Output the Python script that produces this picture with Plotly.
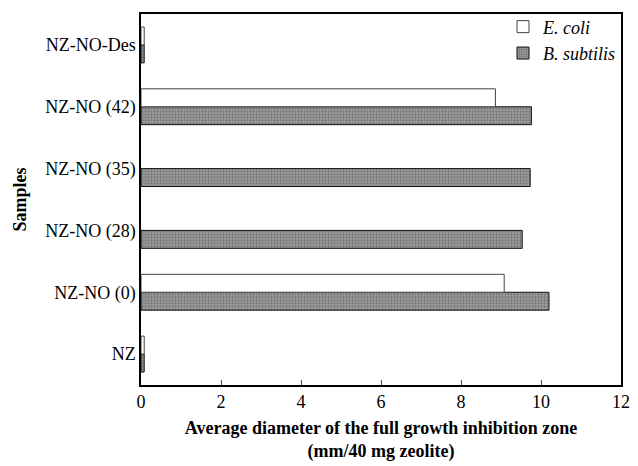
import plotly.graph_objects as go

samples = ["NZ", "NZ-NO (0)", "NZ-NO (28)", "NZ-NO (35)", "NZ-NO (42)", "NZ-NO-Des"]
e_coli = [0.08, 9.08, None, None, 8.86, 0.08]
b_subtilis = [0.08, 10.2, 9.53, 9.73, 9.76, 0.08]
x_ticks = [0, 2, 4, 6, 8, 10, 12]

serif = "Liberation Serif"

fig = go.Figure()
fig.add_trace(go.Bar(
    y=samples, x=b_subtilis, orientation="h", name="<i>B. subtilis</i>",
    legendrank=2,
    marker=dict(color="#8f8f8f", line=dict(color="#111", width=1),
                pattern=dict(shape=".", fgcolor="#4a4a4a", bgcolor="#a0a0a0",
                             size=3, solidity=0.45)),
))
fig.add_trace(go.Bar(
    y=samples, x=e_coli, orientation="h", name="<i>E. coli</i>",
    legendrank=1,
    marker=dict(color="white", line=dict(color="#444", width=1)),
))

fig.update_layout(
    width=638, height=466,
    margin=dict(l=141, r=8, t=12, b=75),
    paper_bgcolor="white", plot_bgcolor="white",
    barmode="group", bargap=0.42, bargroupgap=0,
    font=dict(family=serif, size=18, color="black"),
    showlegend=True,
    legend=dict(x=1.0, y=1.015, xanchor="right", yanchor="top",
                bgcolor="rgba(0,0,0,0)", font=dict(size=18, family=serif),
                itemwidth=30, tracegroupgap=0),
    xaxis=dict(range=[0, 12], tickvals=x_ticks, ticks="inside", ticklen=5,
               showline=True, linecolor="black", linewidth=1.5, mirror=True,
               showgrid=False, zeroline=False,
               tickfont=dict(size=18, family=serif),
               title=dict(text="<b>Average diameter of the full growth inhibition zone<br>(mm/40 mg zeolite)</b>",
                          font=dict(size=18, family=serif), standoff=10)),
    yaxis=dict(showline=True, linecolor="black", linewidth=1.5, mirror=True,
               ticks="", showgrid=False, zeroline=False,
               tickfont=dict(size=18, family=serif),
               title=dict(text="<b>Samples</b>", font=dict(size=18, family=serif),
                          standoff=14)),
)

fig.write_html("out.html")
